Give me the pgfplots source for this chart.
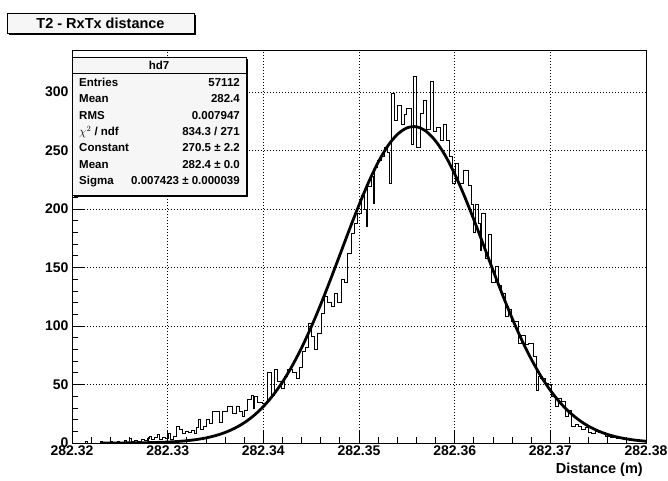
\documentclass[border=0pt]{standalone}
\usepackage{fontspec}
\setmainfont{Liberation Sans}
\usepackage{pgfplots}
\pgfplotsset{compat=1.18}
\pgfplotstableread{
u v
0 0
1.35 1
1.56 0
2.92 1
3.13 0
3.96 1
4.17 0
4.79 1
5.0 0
5.52 2
5.73 0
6.04 4
6.25 1
6.56 2
6.88 1
7.29 3
7.60 2
7.92 4
8.13 6
8.33 3
8.65 5
8.96 7
9.17 3
9.48 5
9.79 4
10.10 8
10.31 3
10.63 6
10.94 14
11.25 12
11.56 8
11.88 10
12.19 9
12.50 11
12.81 8
13.02 13
13.23 20
13.44 12
13.75 14
14.06 20
14.38 17
14.69 27
15.42 18
15.73 27
16.25 31
16.77 25
17.19 31
17.50 27
17.81 23
18.02 28
18.33 37
18.75 41
18.96 30
19.06 40
19.38 35
19.90 34
20.42 60
20.83 41
21.15 63
21.46 53
21.88 47
22.19 57
22.50 63
23.02 60
23.44 55
23.75 65
24.06 78
24.38 82
24.69 102
25.00 91
25.31 80
25.63 94
26.04 111
26.35 125
26.67 120
27.08 117
27.40 128
27.71 120
28.13 140
28.44 137
28.75 162
29.17 179
29.48 188
29.79 196
30.21 212
30.52 200
30.73 185
30.83 219
31.25 228
31.46 205
31.56 236
31.88 242
32.29 245
32.60 253
32.92 248
33.13 222
33.33 299
33.65 276
33.96 289
34.38 272
34.69 281
35.00 286
35.42 255
35.73 313
36.04 253
36.46 282
36.77 293
37.08 268
37.50 309
37.81 266
38.13 270
38.54 259
38.85 272
39.17 259
39.48 245
39.79 222
40.10 239
40.42 222
40.94 233
41.46 220
41.77 204
41.98 180
42.19 204
42.50 188
42.71 165
42.81 196
43.23 158
43.54 178
43.85 137
44.27 151
44.58 135
44.90 128
45.31 108
45.63 114
45.94 104
46.35 104
46.67 85
46.98 92
47.40 84
47.71 85
48.02 85
48.23 74
48.54 45
48.75 57
48.96 55
49.48 51
49.79 50
50.10 40
50.52 31
50.83 38
51.15 36
51.56 23
51.88 28
52.19 14
52.60 16
52.92 14
53.23 12
53.65 13
53.96 9
54.27 8
54.69 10
55.00 9
55.31 9
55.73 6
56.25 5
56.88 4
57.60 3
58.33 3
58.96 2
59.38 1
59.69 1
60 0
}\histdata
\pgfplotstableread{
u f
3 0.023
4 0.040
5 0.069
6 0.118
7 0.197
8 0.323
9 0.520
10 0.823
11 1.28
12 1.96
13 2.95
14 4.35
15 6.31
16 8.99
17 12.6
18 17.3
19 23.4
20 31.1
21 40.7
22 52.1
23 65.7
24 81.4
25 99.1
26 118.5
27 139.3
28 160.8
29 182.5
30 203.4
31 222.8
32 239.9
33 253.8
34 263.7
35 269.3
36 270.3
37 266.5
38 258.2
39 245.9
40 230.0
41 211.4
42 191.0
43 169.5
44 147.8
45 126.7
46 106.7
47 88.3
48 71.8
49 57.3
50 45.0
51 34.7
52 26.3
53 19.6
54 14.3
55 10.3
56 7.28
57 5.06
58 3.45
59 2.31
60 1.52
}\fitdata
\begin{document}
\begin{tikzpicture}[x=1pt,y=1pt]
\useasboundingbox (0,0) rectangle (668,480);
\begin{axis}[
  at={(72pt,37pt)}, anchor=south west, scale only axis,
  width=574pt, height=393pt,
  xmin=0, xmax=60, ymin=0, ymax=335.9,
  xtick={0,10,...,60},
  xticklabels={282.32,282.33,282.34,282.35,282.36,282.37,282.38},
  ytick={0,50,...,300},
  minor x tick num=4, minor y tick num=4,
  tick pos=left, tick align=inside,
  major tick length=13pt, minor tick length=6.5pt,
  every tick/.style={black, line width=0.8pt},
  grid=major,
  major grid style={black, line width=0.7pt, dash pattern=on 1pt off 2pt},
  axis line style={black, line width=0.8pt},
  ticklabel style={font=\fontsize{14}{14}\selectfont\bfseries},
  /pgf/number format/assume math mode=true,
  xticklabel style={yshift=1pt},
]
\addplot[const plot, black, line width=0.7pt] table[x=u, y=v] {\histdata};
\addplot[smooth, black, line width=2.8pt] table[x=u, y=f] {\fitdata};
\end{axis}
% x axis label
\node[anchor=base east, font=\fontsize{14.5}{14.5}\selectfont\bfseries, inner sep=0pt] at (643,6.5) {Distance (m)};
% title box with shadow
\fill[black] (9,445) rectangle (196,465);
\filldraw[fill=gray!7, draw=black, line width=0.8pt] (7,447) rectangle (194,467);
\node[font=\fontsize{14.5}{14.5}\selectfont\bfseries, inner sep=0pt] at (100.5,457) {T2 - RxTx distance};
% stats box with shadow
\fill[black] (74,283) rectangle (248,421);
\filldraw[fill=gray!7, draw=black, line width=0.8pt] (72,285) rectangle (246,423);
\draw[black, line width=0.8pt] (72,407) -- (246,407);
\node[font=\fontsize{11.5}{11.5}\selectfont\bfseries, inner sep=0pt] at (159,415) {hd7};
\begin{scope}[every node/.style={font=\fontsize{11.5}{11.5}\selectfont\bfseries, inner sep=0pt}]
\node[anchor=base west] at (79,393.2) {Entries};
\node[anchor=base east] at (240,393.2) {57112};
\node[anchor=base west] at (79,377) {Mean};
\node[anchor=base east] at (240,377) {282.4};
\node[anchor=base west] at (79,360.6) {RMS};
\node[anchor=base east] at (240,360.6) {0.007947};
\node[anchor=base west] at (79,344.3) {$\chi^{2}$ / ndf};
\node[anchor=base east] at (240,344.3) {834.3 / 271};
\node[anchor=base west] at (79,328) {Constant};
\node[anchor=base east] at (240,328) {270.5 ± 2.2};
\node[anchor=base west] at (79,311.7) {Mean};
\node[anchor=base east] at (240,311.7) {282.4 ± 0.0};
\node[anchor=base west] at (79,295.4) {Sigma};
\node[anchor=base east] at (240,295.4) {0.007423 ± 0.000039};
\end{scope}
\end{tikzpicture}
\end{document}
